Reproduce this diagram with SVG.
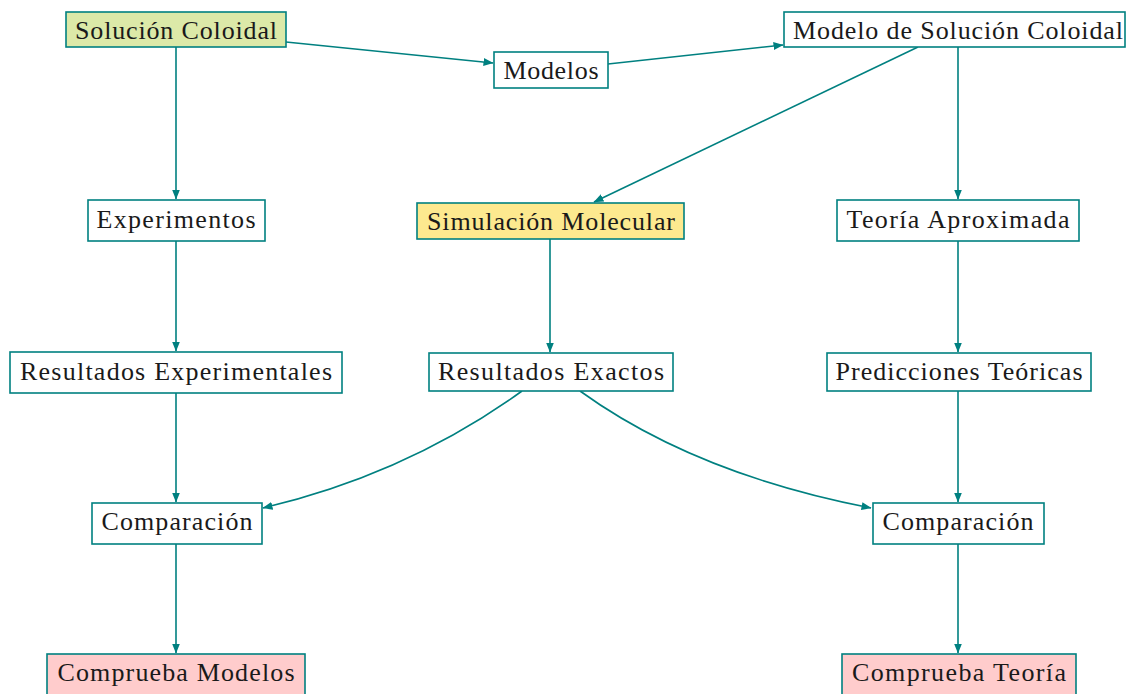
<svg xmlns="http://www.w3.org/2000/svg" width="1127" height="694" viewBox="0 0 1127 694">
<defs>
<marker id="ah" viewBox="0 0 10 8" refX="9.5" refY="4" markerWidth="10" markerHeight="8" markerUnits="userSpaceOnUse" orient="auto">
<path d="M0,0 L10,4 L0,8 Z" fill="#008080"/>
</marker>
<style>
.n rect{fill:#ffffff;stroke:#008080;stroke-width:1.6}
.g rect{fill:#dce9a8}
.y rect{fill:#fde98f}
.p rect{fill:#ffcccc}
.n text{font-family:"Liberation Serif","DejaVu Serif",serif;font-size:26px;fill:#1a1a1a;text-anchor:middle}
#edges path{fill:none;stroke:#008080;stroke-width:1.6;marker-end:url(#ah)}
</style>
</defs>
<rect width="1127" height="694" fill="#ffffff"/>
<g id="edges">
<path d="M286,42 L493,63"/>
<path d="M608,64 L783,45"/>
<path d="M176,47 L176,199"/>
<path d="M918,47 L594,202"/>
<path d="M958,47 L958,199"/>
<path d="M176,241 L176,351"/>
<path d="M550,239 L550,352"/>
<path d="M958,241 L958,352"/>
<path d="M176,393 L176,502"/>
<path d="M522,391 Q407,474 263,508"/>
<path d="M580,391 Q695,474 871,508"/>
<path d="M958,391 L958,502"/>
<path d="M176,544 L176,653"/>
<path d="M958,544 L958,653"/>
</g>
<g id="n1" class="n g"><rect x="66" y="12" width="220" height="35"/><text x="176" y="39" textLength="202">Solución Coloidal</text></g>
<g id="n2" class="n"><rect x="494" y="52" width="114" height="36"/><text x="551" y="79" textLength="95">Modelos</text></g>
<g id="n3" class="n"><rect x="784" y="12" width="341" height="35"/><text x="958" y="39" textLength="330">Modelo de Solución Coloidal</text></g>
<g id="n4" class="n"><rect x="88" y="200" width="177" height="41"/><text x="176" y="228" textLength="159">Experimentos</text></g>
<g id="n5" class="n y"><rect x="417" y="203" width="267" height="36"/><text x="551" y="230" textLength="248">Simulación Molecular</text></g>
<g id="n6" class="n"><rect x="837" y="200" width="242" height="41"/><text x="958" y="228" textLength="223">Teoría Aproximada</text></g>
<g id="n7" class="n"><rect x="10" y="352" width="332" height="41"/><text x="176" y="380" textLength="312">Resultados Experimentales</text></g>
<g id="n8" class="n"><rect x="429" y="353" width="244" height="38"/><text x="551" y="380" textLength="226">Resultados Exactos</text></g>
<g id="n9" class="n"><rect x="827" y="353" width="264" height="38"/><text x="959" y="380" textLength="247">Predicciones Teóricas</text></g>
<g id="n10" class="n"><rect x="92" y="503" width="170" height="41"/><text x="177" y="530" textLength="151">Comparación</text></g>
<g id="n11" class="n"><rect x="873" y="503" width="171" height="41"/><text x="958" y="530" textLength="151">Comparación</text></g>
<g id="n12" class="n p"><rect x="47" y="654" width="258" height="45"/><text x="176" y="681" textLength="237">Comprueba Modelos</text></g>
<g id="n13" class="n p"><rect x="842" y="654" width="234" height="45"/><text x="959" y="681" textLength="214">Comprueba Teoría</text></g>
</svg>
